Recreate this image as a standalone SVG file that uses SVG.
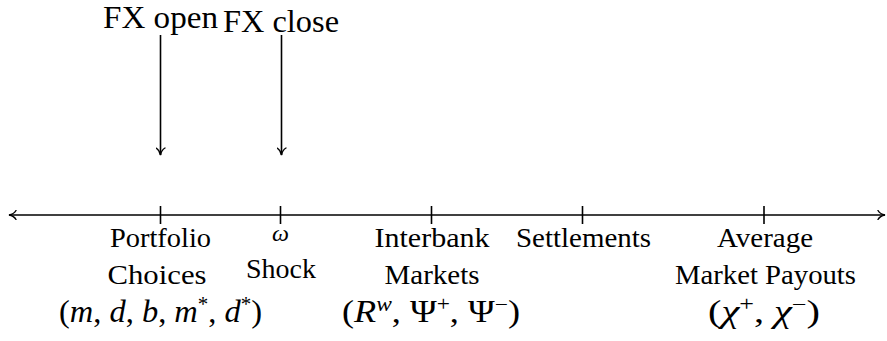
<svg xmlns="http://www.w3.org/2000/svg" width="887" height="341" viewBox="0 0 887 341">
<defs>
<style>
.t{font-family:"Liberation Serif","Times New Roman",serif;fill:#000;text-anchor:middle}
.lbl{font-size:28px}
.mt{font-size:31px}
.top{font-size:31px;text-anchor:start}
.m{font-style:italic}
.sup{font-size:20px}
.ln{stroke:#000;stroke-width:1.6;fill:none}
</style>
<marker id="ah" viewBox="0 0 10 10" refX="9" refY="5" markerWidth="10" markerHeight="10" markerUnits="userSpaceOnUse" orient="auto-start-reverse">
<path d="M2,0.5 Q4,4 9,5 Q4,6 2,9.5" fill="none" stroke="#000" stroke-width="1.4" stroke-linecap="round"/>
</marker>
</defs>
<rect width="887" height="341" fill="#fff"/>
<g id="connectors">
<line class="ln" x1="9" y1="215" x2="885" y2="215" marker-start="url(#ah)" marker-end="url(#ah)"/>
<line class="ln" x1="160.5" y1="35" x2="160.5" y2="155" marker-end="url(#ah)"/>
<line class="ln" x1="281.5" y1="35" x2="281.5" y2="155" marker-end="url(#ah)"/>
<line class="ln" x1="160.5" y1="206" x2="160.5" y2="224"/>
<line class="ln" x1="280.5" y1="206" x2="280.5" y2="224"/>
<line class="ln" x1="431.5" y1="206" x2="431.5" y2="224"/>
<line class="ln" x1="582.5" y1="206" x2="582.5" y2="224"/>
<line class="ln" x1="764" y1="206" x2="764" y2="224"/>
</g>
<g id="fx-open"><text class="t top" x="103" y="28" textLength="115" lengthAdjust="spacingAndGlyphs">FX open</text></g>
<g id="fx-close"><text class="t top" x="223" y="32" textLength="116" lengthAdjust="spacingAndGlyphs">FX close</text></g>
<g id="portfolio">
<text class="t lbl" x="160.5" y="247" textLength="101" lengthAdjust="spacingAndGlyphs">Portfolio</text>
<text class="t lbl" x="157" y="284" textLength="99" lengthAdjust="spacingAndGlyphs">Choices</text>
<text class="t mt" x="160.5" y="322" textLength="203" lengthAdjust="spacingAndGlyphs">(<tspan class="m">m</tspan>, <tspan class="m">d</tspan>, <tspan class="m">b</tspan>, <tspan class="m">m</tspan><tspan class="sup" dy="-11">*</tspan><tspan dy="11">, </tspan><tspan class="m">d</tspan><tspan class="sup" dy="-11">*</tspan><tspan dy="11">)</tspan></text>
</g>
<g id="shock">
<text class="t m" x="280.5" y="241" font-size="24">ω</text>
<text class="t lbl" x="281" y="278" textLength="70" lengthAdjust="spacingAndGlyphs">Shock</text>
</g>
<g id="interbank">
<text class="t lbl" x="432" y="247" textLength="115" lengthAdjust="spacingAndGlyphs">Interbank</text>
<text class="t lbl" x="432" y="284" textLength="95" lengthAdjust="spacingAndGlyphs">Markets</text>
<text class="t mt" x="431" y="322" textLength="178" lengthAdjust="spacingAndGlyphs">(<tspan class="m">R</tspan><tspan class="m sup" dy="-11">w</tspan><tspan dy="11">, Ψ</tspan><tspan class="sup" dy="-11">+</tspan><tspan dy="11">, Ψ</tspan><tspan class="sup" dy="-11">−</tspan><tspan dy="11">)</tspan></text>
</g>
<g id="settlements">
<text class="t lbl" x="583.5" y="247" textLength="135" lengthAdjust="spacingAndGlyphs">Settlements</text>
</g>
<g id="payouts">
<text class="t lbl" x="765" y="247" textLength="96" lengthAdjust="spacingAndGlyphs">Average</text>
<text class="t lbl" x="765.5" y="284" textLength="181" lengthAdjust="spacingAndGlyphs">Market Payouts</text>
<text class="t mt" x="764" y="322" textLength="112" lengthAdjust="spacingAndGlyphs">(<tspan class="m">χ</tspan><tspan class="sup" dy="-11">+</tspan><tspan dy="11">, </tspan><tspan class="m">χ</tspan><tspan class="sup" dy="-11">−</tspan><tspan dy="11">)</tspan></text>
</g>
</svg>
